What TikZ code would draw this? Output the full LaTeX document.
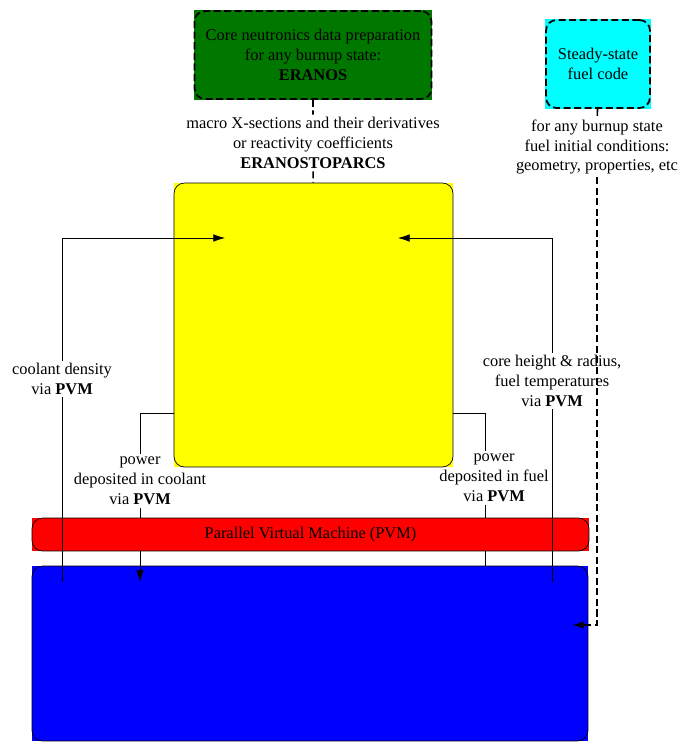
\documentclass[tikz,border=0pt]{standalone}
\usepackage{fontspec}
\setmainfont{Liberation Serif}
\newfontfamily\timesfont{Liberation Serif}
\usetikzlibrary{arrows.meta,backgrounds}
\definecolor{eranosgreen}{RGB}{0,120,0}
\definecolor{fuelcyan}{RGB}{0,255,255}
\definecolor{coreyellow}{RGB}{255,255,0}
\definecolor{pvmred}{RGB}{255,0,0}
\definecolor{tcodeblue}{RGB}{0,0,255}
\newcommand{\lblsize}{\timesfont\fontsize{14}{17}\selectfont}

\begin{document}
\begin{tikzpicture}[x=0.03cm,y=-0.03cm,->,>={Latex[length=10pt,width=6.5pt]},semithick,
  every node/.style={align=center,font=\lblsize},
  box/.style={draw,rounded corners=9pt,inner sep=0pt},
  dbox/.style={box,line width=1.5pt,dash pattern=on 6pt off 3pt},
  dflow/.style={line width=1.4pt,dash pattern=on 6pt off 3pt},
  lbl/.style={inner sep=2pt}]

\useasboundingbox (0,0) rectangle (679,742);

% codes
\node[dbox,minimum width=7.11cm,minimum height=2.64cm] (eranos) at (313,55) {Core neutronics data preparation\\for any burnup state:\\\textbf{ERANOS}};
\node[dbox,minimum width=3.12cm,minimum height=2.64cm] (fuel) at (598,64) {Steady-state\\fuel code};
\node[box,minimum width=8.37cm,minimum height=8.52cm] (core) at (313.5,325) {};
\node[box,minimum width=16.71cm,minimum height=0.99cm] (pvm) at (310.5,534.5) {Parallel Virtual Machine (PVM)};
\node[box,minimum width=16.68cm,minimum height=5.25cm] (tcode) at (310,653.5) {};

% labels
\node[lbl] (xs)    at (313,143) {macro X-sections and their derivatives\\or reactivity coefficients\\\textbf{ERANOSTOPARCS}};
\node[lbl] (init)  at (597,147) {for any burnup state\\fuel initial conditions:\\geometry, properties, etc};
\node[lbl] (dens)  at (62,379)  {coolant density\\via \textbf{PVM}};
\node[lbl] (geom)  at (552,381) {core height \& radius,\\fuel temperatures\\via \textbf{PVM}};
\node[lbl] (pcool) at (140,481) {power\\deposited in coolant\\via \textbf{PVM}};
\node[lbl] (pfuel) at (494,478) {power\\deposited in fuel\\via \textbf{PVM}};

\coordinate (dbot)  at (62,582);
\coordinate (gbot)  at (552,582);
\coordinate (cinL)  at (225,238);
\coordinate (cinR)  at (398,238);
\coordinate (pcoolL) at (140,413);
\coordinate (pfuelR) at (485,413);
\coordinate (tin)   at (572,625);

% data flow
\draw[dflow,-] (eranos) -- (xs) -- (core);
\draw[dflow,-] (fuel) -- (init);
\draw[dflow] (init) |- (tin);

\draw[-] (dbot) -- (dens);
\draw (dens) |- (cinL);
\draw[-] (gbot) -- (geom);
\draw (geom) |- (cinR);

\draw[-] (core.west |- pcoolL) -- (pcoolL) -- (pcool);
\draw[-] (pcool) -- (pcool |- pvm.north);
\draw (pcool |- pvm.south) -- (pcool |- dbot);

\draw[-] (core.east |- pfuelR) -- (pfuelR) -- (pfuelR |- pfuel.north);
\draw[-] (pfuelR |- pfuel.south) -- (pfuelR |- pvm.north);
\draw[-] (pfuelR |- pvm.south) -- (pfuelR |- tcode.north);

\begin{scope}[on background layer,-]
\fill[eranosgreen] (eranos.south west) rectangle (eranos.north east);
\fill[fuelcyan] (fuel.south west) rectangle (fuel.north east);
\fill[coreyellow] (core.south west) rectangle (core.north east);
\fill[pvmred] (pvm.south west) rectangle (pvm.north east);
\fill[tcodeblue] (tcode.south west) rectangle (tcode.north east);
\end{scope}
\end{tikzpicture}
\end{document}
